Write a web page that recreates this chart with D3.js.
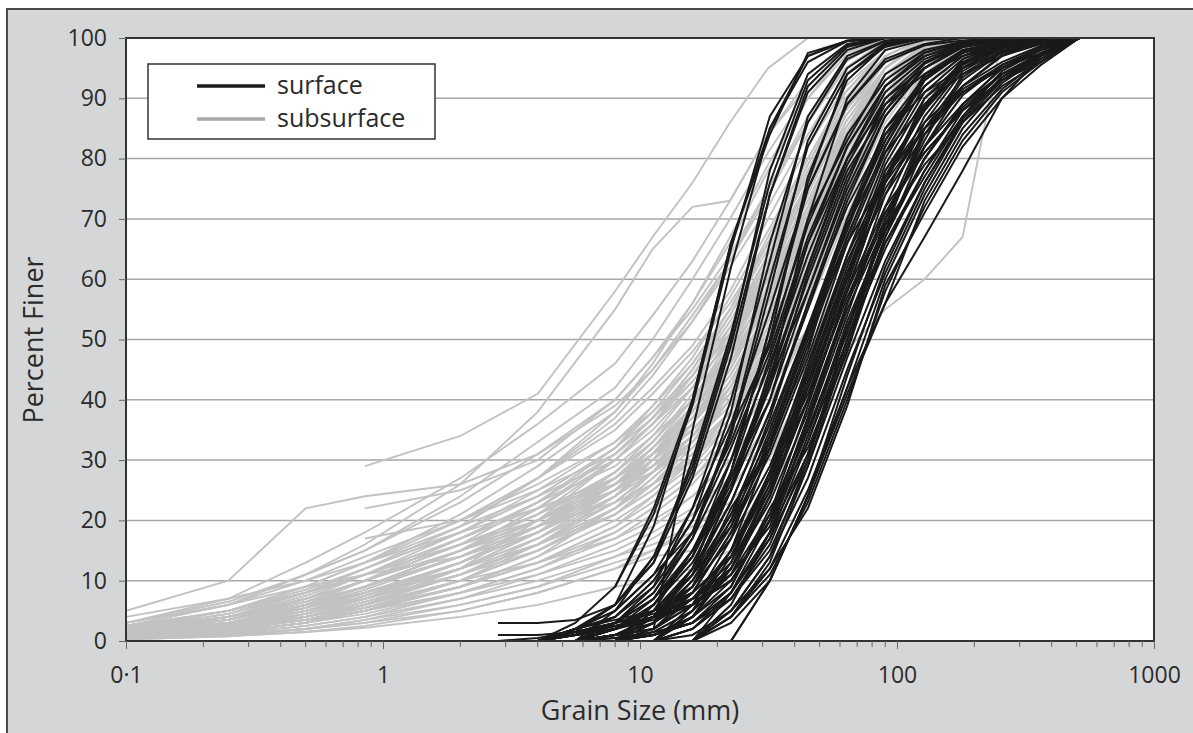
<!DOCTYPE html>
<html>
<head>
<meta charset="utf-8">
<script src="https://cdn.jsdelivr.net/npm/d3@7"></script>
<style>
  body { margin: 0; background: #fff; }
  text { font-family: "Open Sans", "Noto Sans", sans-serif; fill: #2b2b2b; }
</style>
</head>
<body>
<svg id="chart" width="1193" height="733"></svg>
<script>
var _ = null;

// sieve sizes (mm)
var surfaceSizes = [2.8, 4, 5.6, 8, 11.3, 16, 22.6, 32, 45, 64, 90, 128, 180, 256, 362, 512];
var subsurfaceSizes = [0.1, 0.25, 0.5, 0.85, 2, 4, 8, 11.2, 16, 22.4, 31.5, 45, 63, 90, 128, 180, 256];

// percent finer, one row per sample (null = no value at that sieve)
var surfaceCurves = [
  [_,_,_,9,22,40,66,84,97.5,99.5,100,100,100,100,100,100],
  [_,_,_,_,2,35,62,85,97,99.5,100,100,100,100,100,100],
  [_,0,3,9,21,39,65,87,97,99.6,100,100,100,100,100,100],
  [1,1,1.5,6,19,40,66,85,96,99.5,100,100,100,100,100,100],
  [3,3,3.5,6,13,30,51,76,93,98.8,100,100,100,100,100,100],
  [_,0,2,5,14,29,50,78,94,99,100,100,100,100,100,100],
  [_,_,0,3,9,22,40,63,87,97,99.6,100,100,100,100,100],
  [_,_,1,4,10,20,38,66,86,96.5,99.5,100,100,100,100,100],
  [_,_,0,2,6,14,30,50,77,93,98.8,100,100,100,100,100],
  [_,_,_,0,5,15,28,52,76,94,99,100,100,100,100,100],
  [_,0,2,6,13,27,47,74,92,98.5,100,100,100,100,100,100],
  [_,0,2,4,10,20,33,50,69,84,93,97.6,99.3,99.8,100,100],
  [_,_,0,5,11,18,35,49,70,83,94,98,99.4,100,100,100],
  [_,_,0,3,7,14,26,42,60,77,89,95.7,98.7,99.7,100,100],
  [_,_,1,2,6,15,27,40,61,78,88,96,98.5,99.6,100,100],
  [_,_,_,0,6,13,25,43,58,76,90,95,98.8,99.8,100,100],
  [_,_,0,2,4,10,20,33,50,69,84,93,97.6,99.3,99.8,100],
  [_,0,1,2,5,11,19,35,52,68,85,92,97,99.5,100,100],
  [_,_,0,1,4,9,22,32,48,70,83,94,98,99.4,99.8,100],
  [_,_,0,1,3,10,21,34,51,67,82,93.5,97.8,99.2,99.9,100],
  [_,0,1.5,3,5,8,14,26,42,60,77,89,95.7,98.7,99.7,100],
  [_,_,_,1,2,6,15,27,40,61,78,88,96,98.5,99.6,100],
  [_,_,0,1,2,7,13,25,43,58,76,90,95,98.8,99.8,100],
  [_,_,_,0,4,8,14,28,41,59,78,88,96.5,99,99.7,100],
  [_,0,1,2.5,4,6,10,20,33,50,69,84,93,97.6,99.3,100],
  [_,_,_,0,1.5,5,11,19,35,52,68,85,92,97,99.5,100],
  [_,_,_,0,1,4,9,22,32,48,70,83,94,98,99.4,100],
  [_,_,0,2,5,12,23,38,56,74,87,95,98.5,99.6,100,100],
  [_,0,1,3,8,17,30,46,64,80,91,96.5,99,99.8,100,100],
  [_,0,1.5,3,5,9,17,29,45,64,80,91,96.5,99,99.8,100],
  [_,_,0,1,2,6,12,23,38,56,74,87,95,98.5,99.6,100],
  [_,_,0,2,4,11,21,36,52,70,85,93.5,97.5,99.4,100,100],
  [0,0,1,2,4,9,19,32,49,67,82,93,97.8,99.5,99.9,100],
  [_,_,0,3,7,15,25,40,58,75,88,95,98.6,99.7,100,100],
  [_,_,0,1,3,7,15,28,44,62,79,90,96,99,99.8,100],
  [_,0,2,4,9,18,32,48,67,82,92,97,99.2,99.8,100,100],
  [_,_,_,_,0,6,17,34,51,69,83,93,97.5,99.3,99.8,100],
  [_,_,_,_,0,4,12,25,40,58,76,88.5,95.5,98.7,99.6,100],
  [_,_,_,0,3,12,27,44,62,79,90,96,99,99.8,100,100],
  [_,0,1,2.5,4,7,11,21,36,54,72,86,94.5,98.3,99.5,100],
  [_,_,_,_,0,2,7,16,31,50,65,78,88,94,97.4,100],
  [_,_,_,_,_,0,8,17,30,52,66,77,87,94.5,98,100],
  [_,_,_,_,_,0,4,11,23,40,58,72,83,91,96,100],
  [_,_,_,_,_,_,0,10,24,41,56,73,84,91.5,96.5,100],
  [_,_,_,_,_,0,5,12,22,39,59,71,82,90,95.5,100],
  [_,_,_,_,_,_,0,10,24,42,56,67,78,90,97,100],
  [_,_,_,_,_,0,5,14,27,45,61,75,86,93,97,100],
  [_,_,_,0,1,3,7,15,29,47,63,76,86.5,93.5,97.2,100],
  [_,_,0,0.5,1,3,8,18,34,53,68,80,89,95,98,100],
  [_,_,_,_,_,0,4,12,25,42,60,74,85,92.5,97,100],
  [_,0,1,2,3.5,6,10,20,37,56,70,82,90.5,95.5,98.3,100],
  [_,_,_,0,2,8,18,31,47,66,81,92,97,99.2,99.8,100],
  [_,_,0,2,6,14,27,43,62,80,92,97.5,99.4,100,100,100],
  [_,_,_,0,1,4,10,20,35,51,70,85,93.5,97.8,99.4,100],
  [_,0,2,5,11,22,36,55,75,89,96.5,99,100,100,100,100],
  [_,_,_,_,0,5,14,27,43,61,77,88,95,98.5,99.6,100],
  [_,_,_,0,4,11,23,38,55,73,87,95,98.5,99.6,100,100],
  [_,_,0,0.5,1.5,3,8,18,31,48,67,82,92,97.2,99.2,100],
  [_,_,0,3,8,18,34,58,83,95,99.2,100,100,100,100,100],
  [_,_,_,0,4,11,25,43,70,90,98,99.7,100,100,100,100],
  [_,0,2,3.5,5,8,14,27,44,61,74,84,91,95.5,98.5,100],
  [_,_,_,_,0,4,12,26,45,63,76,85,91,95,97.5,100],
  [_,_,_,_,_,0,6,18,36,56,71,82,89,94,97,100],
  [_,_,_,0,1,3,9,21,39,58,72,81,88,93,96.5,100],
  [_,_,_,0,3,8,18,33,50,66,77,85,91,95,98,100],
  [_,_,_,_,0,2,7,17,33,52,68,80,88.5,94,97.5,100],
  [_,_,_,_,_,0,4,13,29,49,66,78,87,93.5,97.5,100],
  [_,_,_,_,0,1,5,14,30,50,67,80,89,95,98.5,100],
  [_,0,1.5,3,4.5,7,12,24,40,57,71,81,88,93,96,100],
  [_,_,_,_,0,2,8,20,37,55,69,79,86,92,96,100],
  [_,_,_,_,_,0,3,10,24,44,62,76,86,93,97.5,100],
  [_,_,_,_,0,4,13,28,46,64,77,86,92,96,98.7,100],
  [_,_,0,2,6,14,28,47,66,80,89,94,97,98.8,99.6,100],
  [_,_,_,0,3,9,20,37,56,72,84,91,95,97.5,99,100],
  [0,0.5,1.5,2.5,4,6,11,24,42,60,75,85,91.5,95.5,98.4,100],
  [_,0,2,6,14,28,49,74,91,98,100,100,100,100,100,100],
  [_,_,0,2,7,17,35,60,82,94,98.5,100,100,100,100,100],
  [_,_,_,0,4,12,28,52,75,89,96,98.8,99.6,100,100,100],
  [_,_,0,1,4,11,25,45,66,82,92,97,99,99.7,100,100],
  [_,_,_,_,0,5,15,32,52,69,81,89,94,97,99,100]
];

var subsurfaceCurves = [
  [5,10,22,24,26,31,39,45,53,62,72,84,94,99,100,_,_],
  [_,_,_,29,34,41,58,67,76,86,95,100,_,_,_,_,_],
  [_,_,_,22,25,30,40,47,56,66,78,90,98,100,_,_,_],
  [0.3,0.8,1.5,2.2,4,6,9,10,12,15,24,40,62,82,95,100,_],
  [0.5,1,2,3,5,8,12,14,15,18,25,36,48,55,60,67,100],
  [3,7,13,18,27,36,46,54,63,73,84,93,98.5,100,_,_,_],
  [2.5,6,11,15,24,33,42,50,60,70,81,91,97.5,100,_,_,_],
  [2,5,9,13,21,29,38,45,54,63,74,86,95,99.5,100,_,_],
  [2,4.5,8,12,19,27,36,42,49,58,70,82,92,98,100,_,_],
  [1.5,4,7,11,18,25,33,39,46,55,66,79,90,97,100,_,_],
  [1.8,3.5,6.5,10,17,23,31,37,44,52,63,76,88,96,99.5,100,_],
  [1.5,3,6,9,15,21,30,35,42,50,61,73,85,94,99,100,_],
  [1.2,3,5.5,8.5,14,20,28,33,40,48,58,71,84,94,99,100,_],
  [1,2.5,5,8,13,19,27,32,38,46,56,69,82,92,98,100,_],
  [1,2.5,5,8,13,18,25,30,36,43,53,66,79,90,97,100,_],
  [0.8,2,4.5,7,12,17,24,29,35,42,52,64,77,89,96,99.5,100],
  [0.8,2,4,6,11,16,22,27,33,40,50,62,75,88,96,99.5,100],
  [0.6,1.8,3.5,6,10,15,21,25,31,38,47,60,74,87,95,99,100],
  [0.5,1.5,3,5,9,13,19,23,28,35,45,58,72,86,95,99,100],
  [0.5,1.2,2.5,4,8,12,17,21,26,33,42,55,70,85,94,99,100],
  [0.4,1,2,3.5,7,11,16,19,24,30,39,52,67,83,94,99,100],
  [2,3,4,6,12,20,30,36,43,51,60,72,84,94,99,100,_],
  [3,6,9,11,14,18,24,29,36,45,57,71,85,95,100,_,_],
  [_,2,6,10,17,22,27,31,35,41,50,63,78,91,98,100,_],
  [1,4,8,12,18,22,26,29,33,39,48,62,78,92,98.5,100,_],
  [0.5,1.5,4,7,13,19,26,31,37,45,56,70,84,95,100,_,_],
  [1.5,3,5,7,11,16,24,30,38,48,60,74,87,96,100,_,_],
  [2.5,5,8,11,16,21,28,33,40,49,60,72,84,93,98.5,100,_],
  [1,2,3.5,5,9,14,22,28,36,46,58,72,86,95,99.5,100,_],
  [0.8,2.5,5.5,9,15,20,26,30,35,42,51,63,76,88,96,99.5,100],
  [_,_,3,6,12,18,25,31,39,49,61,75,88,96,100,_,_],
  [_,_,_,8,13,18,24,28,33,40,49,61,74,87,96,100,_],
  [_,_,_,13,18,24,32,38,46,55,66,78,89,97,100,_,_],
  [_,_,_,17,20,25,31,36,42,50,61,73,86,95,100,_,_],
  [_,_,_,_,15,20,27,32,39,48,58,70,83,93,99,100,_],
  [_,_,_,_,11,16,22,26,31,38,49,62,76,89,97,100,_],
  [1.2,3,6,9,14,19,25,29,34,40,48,58,70,83,93,98.5,100],
  [0.6,1.5,3,5,8,12,18,22,27,33,41,52,66,81,92,98,100],
  [0.4,1,2,3,6,9,14,17,21,27,36,49,65,81,93,99,100],
  [0.3,0.8,1.5,2.5,5,8,12,15,19,25,34,47,63,80,93,99,100],
  [1,2,4,6,10,13,17,20,24,30,39,52,68,84,95,100,_],
  [1.5,3.5,7,10,15,19,23,26,30,36,45,58,73,88,97,100,_],
  [2,4,7,10,16,23,32,39,47,57,68,80,91,98,100,_,_],
  [2,4,6,9,15,22,31,37,45,54,65,77,88,96,99.5,100,_],
  [1,2.5,5,7,12,18,26,32,40,50,62,76,89,97,100,_,_],
  [1.5,3.5,6,8,12,17,23,28,34,42,53,67,81,92,98.5,100,_],
  [0.7,1.8,3.5,5.5,10,15,21,26,33,42,54,68,82,93,99,100,_],
  [1,2.2,4.5,7.5,13,19,26,31,37,44,54,66,79,90,97,100,_],
  [3,6,10,14,20,26,33,38,44,51,60,71,83,93,99,100,_],
  [2.2,5,9,13,20,27,35,41,48,56,66,77,88,96,100,_,_],
  [0.5,1.5,3,5,9,14,20,24,29,36,46,59,74,88,97,100,_],
  [1.2,2.8,5,7.5,12,16,21,25,30,37,47,61,76,90,98,100,_],
  [0.9,2.2,4,6.5,11,16,23,28,34,41,51,64,78,91,98,100,_],
  [1.8,4,7.5,11,17,23,29,34,40,47,57,69,82,93,99,100,_],
  [_,_,_,_,19,24,30,36,44,54,66,79,91,98,100,_,_],
  [2.5,6,11,16,26,38,55,65,72,73,84,92,98,100,_,_,_],
  [0.6,1.5,3,4.5,8,11,15,18,22,27,35,46,60,76,90,98,100],
  [0.4,1.2,2.5,4,7,10,14,16,19,23,30,42,58,76,90,98,100],
  [1,2,3.5,5.5,10,16,24,30,37,46,57,70,84,95,100,_,_],
  [2,4.5,8,11,16,20,25,28,32,38,47,60,75,89,97,100,_],
  [1.5,3,5.5,8,13,18,25,30,37,45,56,68,81,92,98,100,_],
  [1,2,4,6.5,11,16,23,28,34,43,54,67,80,91,97.5,100,_],
  [2,4,6.5,9,14,19,26,31,38,47,59,72,85,95,100,_,_],
  [0.7,2,4,6,11,17,25,31,39,49,61,75,88,97,100,_,_],
  [1.2,2.5,4.5,7,12,18,27,33,41,51,63,76,88,96,99.5,100,_],
  [2.5,5,8,11,17,23,31,37,45,55,67,80,91,98,100,_,_],
  [1,2.5,4.5,7,11,15,21,26,32,40,51,64,78,90,97,100,_],
  [0.5,1.5,3,5,10,15,22,27,33,41,52,65,80,92,98.5,100,_],
  [1.5,3.5,6,9,15,22,30,36,44,53,64,76,88,96,100,_,_],
  [2,4,7,10,15,20,27,32,38,46,56,68,80,91,98,100,_],
  [0.8,2,3.5,5.5,9,13,18,22,27,34,44,57,72,87,96,100,_],
  [3,6.5,11,15,23,31,40,47,55,64,75,86,95,99.5,100,_,_],
  [_,_,_,_,20,27,37,44,53,63,75,87,96,100,_,_,_],
  [1.5,3,5.5,8,13,19,28,34,42,52,64,78,90,98,100,_,_],
  [1,2,3.5,5,9,13,19,24,30,38,48,61,75,88,96,99.5,100],
  [2.5,5,8.5,12,18,24,32,37,43,51,62,75,87,95,99.5,100,_],
  [0.5,1,2,3.5,6,9,13,15,18,22,30,44,62,80,93,99,100],
  [1.8,4,7,10,16,21,27,31,36,44,55,69,83,94,99,100,_],
  [4,7,10,13,19,27,38,46,56,67,79,90,97,100,_,_,_],
  [1,3,6,9,14,19,25,29,34,41,50,62,75,88,96,100,_]
];

var yTicks = [0, 10, 20, 30, 40, 50, 60, 70, 80, 90, 100];
var xTicks = [0.1, 1, 10, 100, 1000];
var xTickLabels = ["0·1", "1", "10", "100", "1000"];
var legendLabels = ["surface", "subsurface"];
var seriesColors = ["#1a1a1a", "#c2c2c2"];
var legendColors = ["#1a1a1a", "#a9a9a9"];

var svg = d3.select("#chart");

// outer grey panel
svg.append("rect")
    .attr("x", 7).attr("y", 9)
    .attr("width", 1220).attr("height", 760)
    .attr("fill", "#d5d6d8")
    .attr("stroke", "#4a4a4a")
    .attr("stroke-width", 2);

var x = d3.scaleLog().domain([0.1, 1000]).range([126, 1154]);
var y = d3.scaleLinear().domain([0, 100]).range([641, 38]);

svg.append("rect")
    .attr("x", 126).attr("y", 38)
    .attr("width", 1154 - 126).attr("height", 641 - 38)
    .attr("fill", "#fff");

svg.append("defs").append("clipPath").attr("id", "plotclip")
  .append("rect")
    .attr("x", 126).attr("y", 37)
    .attr("width", 1154 - 126).attr("height", 641 - 36);

// horizontal grid
svg.append("g").selectAll("line")
    .data(yTicks.filter(function(d) { return d > 0 && d < 100; }))
    .enter().append("line")
    .attr("x1", 126).attr("x2", 1154)
    .attr("y1", function(d) { return y(d); })
    .attr("y2", function(d) { return y(d); })
    .attr("stroke", "#a6a6a6")
    .attr("stroke-width", 1.5);

var line = d3.line()
    .x(function(d) { return x(d[0]); })
    .y(function(d) { return y(d[1]); });

function toPoints(sizes, row) {
    var pts = [];
    for (var i = 0; i < row.length; i++) {
        if (row[i] !== null) pts.push([sizes[i], row[i]]);
    }
    return pts;
}

var plot = svg.append("g").attr("clip-path", "url(#plotclip)");

plot.append("g").selectAll("path")
    .data(subsurfaceCurves)
    .enter().append("path")
    .attr("d", function(d) { return line(toPoints(subsurfaceSizes, d)); })
    .attr("fill", "none")
    .attr("stroke", seriesColors[1])
    .attr("stroke-width", 1.9);

plot.append("g").selectAll("path")
    .data(surfaceCurves)
    .enter().append("path")
    .attr("d", function(d) { return line(toPoints(surfaceSizes, d)); })
    .attr("fill", "none")
    .attr("stroke", seriesColors[0])
    .attr("stroke-width", 2);

// plot frame
svg.append("rect")
    .attr("x", 126).attr("y", 38)
    .attr("width", 1154 - 126).attr("height", 641 - 38)
    .attr("fill", "none")
    .attr("stroke", "#333")
    .attr("stroke-width", 2);

// y axis
var yAxis = svg.append("g")
    .attr("transform", "translate(126,0)")
    .call(d3.axisLeft(y).tickValues(yTicks).tickSize(7).tickPadding(12));
yAxis.select(".domain").remove();
yAxis.selectAll("line").attr("stroke", "#666");
yAxis.selectAll("text")
    .attr("font-size", 23)
    .style("font-family", "'Open Sans', sans-serif")
    .attr("fill", "#2b2b2b");

// x axis: minor ticks then labelled decades
var minor = [];
for (var dec = 0.1; dec < 1000; dec *= 10) {
    for (var m = 2; m <= 9; m++) minor.push(+(dec * m).toPrecision(3));
}
svg.append("g").selectAll("line")
    .data(minor)
    .enter().append("line")
    .attr("x1", function(d) { return x(d); })
    .attr("x2", function(d) { return x(d); })
    .attr("y1", 641).attr("y2", 647)
    .attr("stroke", "#666");

var xAxis = svg.append("g")
    .attr("transform", "translate(0,641)")
    .call(d3.axisBottom(x).tickValues(xTicks)
        .tickFormat(function(d, i) { return xTickLabels[i]; })
        .tickSize(8).tickPadding(18));
xAxis.select(".domain").remove();
xAxis.selectAll("line").attr("stroke", "#666");
xAxis.selectAll("text")
    .attr("font-size", 23)
    .style("font-family", "'Open Sans', sans-serif")
    .attr("fill", "#2b2b2b");

// titles
svg.append("text")
    .attr("transform", "translate(43,340) rotate(-90)")
    .attr("text-anchor", "middle")
    .attr("font-size", 27)
    .text("Percent Finer");

svg.append("text")
    .attr("x", 640).attr("y", 720)
    .attr("text-anchor", "middle")
    .attr("font-size", 27)
    .text("Grain Size (mm)");

// legend
var legend = svg.append("g");
legend.append("rect")
    .attr("x", 148).attr("y", 64)
    .attr("width", 287).attr("height", 75)
    .attr("fill", "#fff")
    .attr("stroke", "#333")
    .attr("stroke-width", 1.5);
var items = legend.selectAll("g.item")
    .data(legendLabels)
    .enter().append("g")
    .attr("class", "item")
    .attr("transform", function(d, i) { return "translate(0," + (86 + i * 33) + ")"; });
items.append("line")
    .attr("x1", 197).attr("x2", 265)
    .attr("stroke", function(d, i) { return legendColors[i]; })
    .attr("stroke-width", 3.5);
items.append("text")
    .attr("x", 277).attr("y", 8)
    .attr("font-size", 25)
    .text(function(d) { return d; });
</script>
</body>
</html>
